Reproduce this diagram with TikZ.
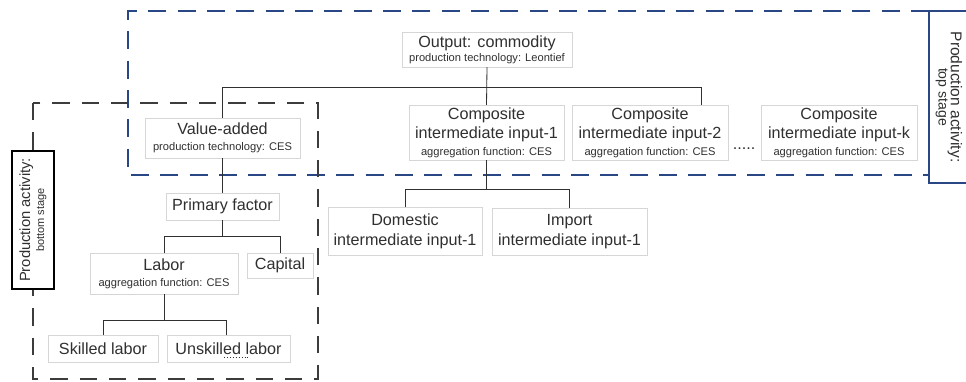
\documentclass[tikz,border=0pt]{standalone}
\usepackage{fontspec}
\setmainfont{Liberation Sans}
\usetikzlibrary{calc}

\definecolor{stageblue}{HTML}{2A4785}
\definecolor{stagegray}{HTML}{3C3C3C}
\definecolor{boxgray}{HTML}{D6D6D6}
\definecolor{txtgray}{HTML}{303030}

\newcommand{\subtxt}[1]{{\fontsize{9.5}{11}\selectfont #1}}

\tikzset{
  box/.style={draw=boxgray, fill=white, align=center, inner sep=1pt, text=txtgray,
    font=\fontsize{13.8}{16}\selectfont},
  boxsize/.style 2 args={minimum width=#1*0.3mm, minimum height=#2*0.3mm},
  link/.style={draw=txtgray, line width=0.7pt},
  topstage/.style={draw=stageblue, line width=1.7pt, dash pattern=on 5.4mm off 3.4mm},
  botstage/.style={draw=stagegray, line width=1.7pt, dash pattern=on 5.2mm off 3.6mm},
  stagelabel/.style={align=center, fill=white, text=txtgray, inner sep=1pt,
    font=\fontsize{13}{15}\selectfont}
}

\begin{document}
\begin{tikzpicture}[x=0.3mm, y=-0.3mm]
  \clip (0,0) rectangle (966,381);

  % Stage frames
  \draw[topstage] (929,11) -- (128,11) -- (128,175) -- (929,175);
  \draw[botstage] (33,103) rectangle (318,379);

  % Top stage
  \node[box, boxsize={170}{35}] (out) at (487,49.5)
    {Output: commodity\\[-4pt]\subtxt{production technology: Leontief}};
  \node[box, boxsize={155}{40}] (va) at (222.5,138)
    {Value-added\\[-2.5pt]\subtxt{production technology: CES}};
  \node[box, boxsize={155}{55}] (ci1) at (486.5,132.5)
    {Composite\\intermediate input-1\\[-1.5pt]\subtxt{aggregation function: CES}};
  \node[box, boxsize={156}{55}] (ci2) at (650,132.5)
    {Composite\\intermediate input-2\\[-1.5pt]\subtxt{aggregation function: CES}};
  \node[box, boxsize={156}{55}] (cik) at (839,132.5)
    {Composite\\intermediate input-k\\[-1.5pt]\subtxt{aggregation function: CES}};
  \node[text=txtgray, anchor=base, inner sep=0pt,
    font=\fontsize{13.8}{16}\selectfont] (gap) at (744,149) {.....};

  % Intermediate split
  \node[box, boxsize={154}{48}] (dom) at (405,231)
    {Domestic\\[1pt]intermediate input-1};
  \node[box, boxsize={155}{47}] (imp) at (569.5,232)
    {Import\\[1pt]intermediate input-1};

  % Bottom stage
  \node[box, boxsize={113}{27}] (pf) at (222.5,206.5) {Primary factor};
  \node[box, boxsize={148}{41}] (lab) at (164,273.5)
    {Labor\\[-2.5pt]\subtxt{aggregation function: CES}};
  \node[box, boxsize={66}{25}] (cap) at (280,265.5) {Capital};
  \node[box, boxsize={110}{27}] (sk) at (103,348.5) {Skilled labor};
  \node[box, boxsize={123}{27}] (usk) at (228.5,348.5) {Unskilled labor};
  \draw[dotted, txtgray, line width=0.5pt] (224,357) -- (248,357);

  % Links
  \draw[link] (out.south) -- (ci1.north);
  \draw[link] (va.north) -- ++(0,-30) -| ($(ci2.north east)+(-27,0)$);
  \draw[link] (ci1.south) -- ++(0,30);
  \draw[link] (dom.north) -- ++(0,-17) -| (imp.north);
  \draw[link] (va.south) -- (pf.north);
  \draw[link] (pf.south) -- ++(0,17);
  \draw[link] (lab.north) -- ++(0,-16) -| (cap.north);
  \draw[link] (lab.south) -- ++(0,27);
  \draw[link] (sk.north) -- ++(0,-14) -| ($(usk.north)+(-2.5,0)$);

  % Stage labels
  \node[stagelabel, draw=stageblue, line width=1pt, rotate=-90,
    minimum width=172*0.3mm, minimum height=40*0.3mm] (toplab) at (949,97)
    {\fontsize{13.3}{15}\selectfont Production activity:\\[-4.5pt]%
     {\fontsize{12}{13}\selectfont top stage}};
  \node[stagelabel, draw=black, line width=1.2pt, rotate=90,
    minimum width=138*0.3mm, minimum height=42*0.3mm] (botlab) at (33,220)
    {\fontsize{12.6}{15}\selectfont Production activity:\\[-3pt]%
     {\fontsize{9.4}{11}\selectfont bottom stage}};
\end{tikzpicture}
\end{document}
